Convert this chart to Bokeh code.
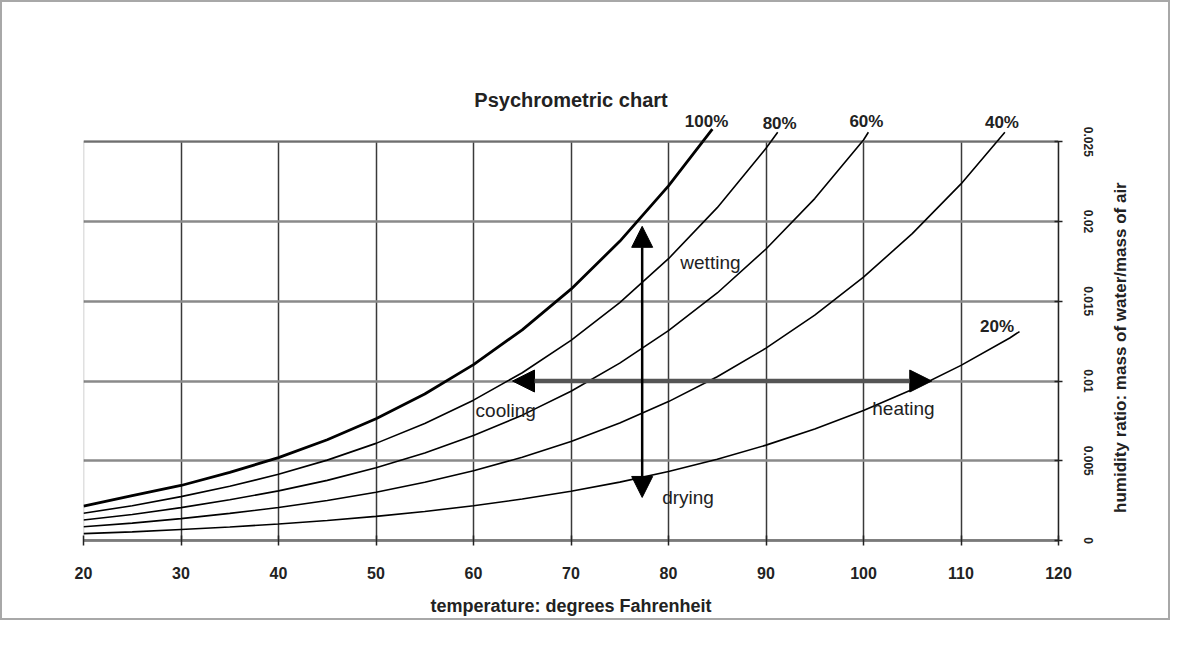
import math
from bokeh.plotting import figure
from bokeh.layouts import row
from bokeh.models import (Label, Arrow, NormalHead, FixedTicker, NumeralTickFormatter,
                          BoxAnnotation, Range1d)
from bokeh.embed import file_html
from bokeh.resources import INLINE

# ---- data ----
t_100 = [20, 25, 30, 35, 40, 45, 50, 55, 60, 65, 70, 75, 80, 84.5]
w_100 = [0.00216, 0.00281, 0.00345, 0.00427, 0.00520, 0.00632, 0.00763, 0.00919,
         0.01103, 0.01321, 0.01576, 0.01876, 0.02224, 0.0258]

t_80 = [20, 25, 30, 35, 40, 45, 50, 55, 60, 65, 70, 75, 80, 85, 90, 91.2]
w_80 = [0.00171, 0.00218, 0.00275, 0.00340, 0.00415, 0.00504, 0.00609, 0.00734,
        0.00880, 0.01052, 0.01255, 0.01491, 0.01767, 0.02087, 0.02459, 0.0256]

t_60 = [20, 25, 30, 35, 40, 45, 50, 55, 60, 65, 70, 75, 80, 85, 90, 95, 100, 100.5]
w_60 = [0.00129, 0.00163, 0.00206, 0.00255, 0.00311, 0.00377, 0.00456, 0.00549,
        0.00658, 0.00786, 0.00936, 0.01112, 0.01316, 0.01552, 0.01828, 0.02144,
        0.02511, 0.0256]

t_40 = [20, 25, 30, 35, 40, 45, 50, 55, 60, 65, 70, 75, 80, 85, 90, 95, 100,
        105, 110, 114.5]
w_40 = [0.00086, 0.00109, 0.00137, 0.00170, 0.00207, 0.00251, 0.00303, 0.00365,
        0.00437, 0.00522, 0.00621, 0.00737, 0.00871, 0.01027, 0.01206, 0.01413,
        0.01651, 0.01924, 0.02236, 0.0256]

t_20 = [20, 25, 30, 35, 40, 45, 50, 55, 60, 65, 70, 75, 80, 85, 90, 95, 100,
        105, 110, 115, 116]
w_20 = [0.00043, 0.00054, 0.00069, 0.00085, 0.00103, 0.00125, 0.00151, 0.00182,
        0.00218, 0.00260, 0.00309, 0.00366, 0.00433, 0.00509, 0.00598, 0.00699,
        0.00815, 0.00947, 0.01098, 0.01270, 0.0131]

x_ticks = [20, 30, 40, 50, 60, 70, 80, 90, 100, 110, 120]
y_ticks = [0, 0.005, 0.01, 0.015, 0.02, 0.025]

curve_labels = ["100%", "80%", "60%", "40%", "20%"]
curve_label_x = [83.9, 91.4, 100.3, 114.2, 113.7]
curve_label_y = [0.02628, 0.02615, 0.02628, 0.02622, 0.01345]

process_labels = ["wetting", "cooling", "heating", "drying"]
process_label_x = [84.3, 63.3, 104.1, 82.0]
process_label_y = [0.01743, 0.00818, 0.00828, 0.00268]

title_text = "Psychrometric chart"
x_label_text = "temperature: degrees Fahrenheit"
y_label_text = "humidity ratio: mass of water/mass of air"

# arrows: (x_start, y_start, x_end, y_end)
h_arrow = [64.0, 0.0100, 107.0, 0.0100]
v_arrow = [77.3, 0.0197, 77.3, 0.0027]

FONT = "Liberation Sans"
X_MIN, X_MAX = 20, 120
Y_MIN, Y_MAX = 0, 0.025
Y_VIEW_TOP = 0.0269  # a little room above the grid for the curve labels

W_MAIN, W_SIDE, H = 1098, 68, 616
p = figure(width=W_MAIN, height=H, x_range=(X_MIN, X_MAX), y_range=(Y_MIN, Y_VIEW_TOP),
           y_axis_location="right", output_backend="svg", toolbar_location=None,
           min_border_left=81, min_border_right=42, min_border_top=109,
           min_border_bottom=75, title=title_text)
p.background_fill_color = "white"
p.border_fill_color = "white"
p.outline_line_color = None

p.title.align = "center"
p.title.text_font = FONT
p.title.text_font_size = "20px"
p.title.text_font_style = "bold"
p.title.text_color = "#222222"
p.title.standoff = 2

# chart box
p.add_layout(BoxAnnotation(left=X_MIN, right=X_MAX, bottom=Y_MIN, top=Y_MAX,
                           fill_alpha=0, line_color="#333333", line_width=1.5))

# grid
p.xgrid.ticker = FixedTicker(ticks=x_ticks)
p.xgrid.grid_line_color = "#3a3a3a"
p.xgrid.grid_line_width = 1.5
p.ygrid.ticker = FixedTicker(ticks=y_ticks)
p.ygrid.grid_line_color = "#8a8a8a"
p.ygrid.grid_line_width = 2.5
p.xgrid.cross_bounds = (Y_MIN, Y_MAX)
p.ygrid.cross_bounds = (X_MIN, X_MAX)

# x axis
xa = p.xaxis[0]
xa.ticker = FixedTicker(ticks=x_ticks)
xa.minor_tick_line_color = None
xa.axis_line_color = "#888888"
xa.axis_line_width = 3
xa.major_tick_line_color = "#222222"
xa.major_tick_line_width = 1.5
xa.major_tick_in = 5
xa.major_tick_out = 5
xa.major_label_standoff = 21
xa.major_label_text_font = FONT
xa.major_label_text_font_size = "16px"
xa.major_label_text_font_style = "bold"
xa.major_label_text_color = "#222222"
xa.axis_label = x_label_text
xa.axis_label_text_font = FONT
xa.axis_label_text_font_size = "18px"
xa.axis_label_text_font_style = "bold"
xa.axis_label_text_color = "#222222"
xa.axis_label_standoff = 14

# y axis (right)
ya = p.yaxis[0]
ya.ticker = FixedTicker(ticks=y_ticks)
ya.bounds = (Y_MIN, Y_MAX)
ya.formatter = NumeralTickFormatter(format="0.[000]")
ya.minor_tick_line_color = None
ya.axis_line_color = "#222222"
ya.axis_line_width = 1.5
ya.major_tick_line_color = "#222222"
ya.major_tick_line_width = 1.5
ya.major_tick_in = 4
ya.major_tick_out = 4
ya.major_label_orientation = "vertical"
ya.major_label_standoff = 21
ya.major_label_text_font = FONT
ya.major_label_text_font_size = "12px"
ya.major_label_text_font_style = "bold"
ya.major_label_text_color = "#222222"

# curves
p.line(t_100, w_100, line_color="black", line_width=2.8)
p.line(t_80, w_80, line_color="black", line_width=1.6)
p.line(t_60, w_60, line_color="black", line_width=1.6)
p.line(t_40, w_40, line_color="black", line_width=1.6)
p.line(t_20, w_20, line_color="black", line_width=1.6)

# arrows
p.add_layout(Arrow(start=NormalHead(size=22, fill_color="black", line_color="black"),
                   end=NormalHead(size=22, fill_color="black", line_color="black"),
                   x_start=h_arrow[0], y_start=h_arrow[1], x_end=h_arrow[2], y_end=h_arrow[3],
                   line_color="#555555", line_width=4.5))
p.add_layout(Arrow(start=NormalHead(size=21, fill_color="black", line_color="black"),
                   end=NormalHead(size=21, fill_color="black", line_color="black"),
                   x_start=v_arrow[0], y_start=v_arrow[1], x_end=v_arrow[2], y_end=v_arrow[3],
                   line_color="black", line_width=2.5))

# labels
for txt, lx, ly in zip(curve_labels, curve_label_x, curve_label_y):
    p.add_layout(Label(x=lx, y=ly, text=txt, text_align="center", text_baseline="middle",
                       text_font=FONT, text_font_size="17px", text_font_style="bold",
                       text_color="#222222"))
for txt, lx, ly in zip(process_labels, process_label_x, process_label_y):
    p.add_layout(Label(x=lx, y=ly, text=txt, text_align="center", text_baseline="middle",
                       text_font=FONT, text_font_size="19px", text_color="#222222"))

# narrow side panel carrying the right-hand axis title (reads bottom-to-top)
q = figure(width=W_SIDE, height=H, x_range=Range1d(0, W_SIDE), y_range=Range1d(0, H),
           x_axis_type=None, y_axis_type=None, output_backend="svg",
           toolbar_location=None, min_border=0)
q.outline_line_color = None
q.grid.visible = False
q.background_fill_color = "white"
q.border_fill_color = "white"
q.add_layout(Label(x=20, y=277, text=y_label_text, angle=math.pi / 2,
                   text_align="center", text_baseline="middle",
                   text_font=FONT, text_font_size="17px", text_font_style="bold",
                   text_color="#222222"))

layout = row(p, q, spacing=0, styles={"border": "2px solid #a8a8a8"})

open("out.html", "w").write(file_html(layout, INLINE))
